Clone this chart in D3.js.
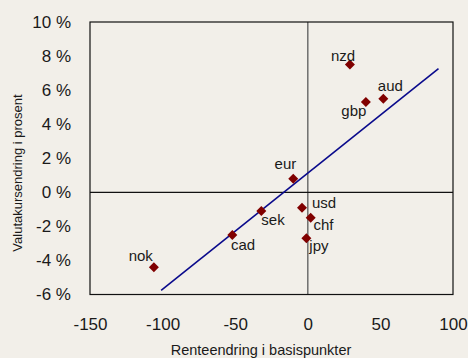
<!DOCTYPE html>
<html>
<head>
<meta charset="utf-8">
<script src="https://cdn.jsdelivr.net/npm/d3@7/dist/d3.min.js"></script>
<style>
  html, body { margin: 0; padding: 0; background: #f2efe9; }
  svg { display: block; font-family: "Liberation Sans", Arial, sans-serif; }
</style>
</head>
<body>
<svg id="chart" width="468" height="358"></svg>
<script>
// Currencies: change in policy rate (basis points) vs exchange-rate change (%)
const currencies = ["nzd", "aud", "gbp", "eur", "usd", "chf", "jpy", "sek", "cad", "nok"];
const rateChange = [29, 52, 40, -10, -4, 2, -1, -32, -52, -106];
const fxChange   = [7.5, 5.5, 5.3, 0.8, -0.9, -1.5, -2.7, -1.1, -2.5, -4.4];

// Fitted trend line (two end points)
const trendX = [-101, 90];
const trendY = [-5.76, 7.26];

// Axis ticks
const xTicks = [-150, -100, -50, 0, 50, 100];
const yTicks = [-6, -4, -2, 0, 2, 4, 6, 8, 10];

// Label placement relative to each marker: [dx, dy, anchor]
const labelPlacement = [
  [-19, -3.5, "start"], [-5.5, -8, "start"], [0.5, 13.5, "end"], [3, -10, "end"],
  [10, 0.7, "start"], [2.7, 12.3, "start"], [3, 12.7, "start"], [0, 14, "start"],
  [-1.3, 15, "start"], [-1, -6.7, "end"]
];

const svg = d3.select("#chart");
const m = { left: 90, top: 22, right: 453, bottom: 294.5 };
const ink = "#1a1a1a";

const x = d3.scaleLinear().domain([-150, 100]).range([m.left, m.right]);
const y = d3.scaleLinear().domain([-6, 10]).range([m.bottom, m.top]);

// Y axis labels
svg.append("g")
  .attr("transform", `translate(${m.left},0)`)
  .call(d3.axisLeft(y).tickValues(yTicks).tickSize(0).tickPadding(19)
        .tickFormat(d => String(d) + " %"))
  .call(g => g.select(".domain").remove())
  .selectAll("text")
  .attr("font-size", 17).attr("fill", ink)
  .attr("font-family", "Liberation Sans, Arial, sans-serif");

// X axis labels
svg.append("g")
  .attr("transform", `translate(0,${m.bottom})`)
  .call(d3.axisBottom(x).tickValues(xTicks).tickSize(0).tickPadding(23.5)
        .tickFormat(d => String(d)))
  .call(g => g.select(".domain").remove())
  .selectAll("text")
  .attr("font-size", 17).attr("fill", ink)
  .attr("font-family", "Liberation Sans, Arial, sans-serif");

// Zero lines
svg.append("line")
  .attr("x1", x(0)).attr("x2", x(0)).attr("y1", m.top).attr("y2", m.bottom)
  .attr("stroke", "#6e6e6e").attr("stroke-width", 1.5);
svg.append("line")
  .attr("x1", m.left).attr("x2", m.right).attr("y1", y(0)).attr("y2", y(0))
  .attr("stroke", "#111").attr("stroke-width", 1.2);

// Plot frame
svg.append("rect")
  .attr("x", m.left).attr("y", m.top)
  .attr("width", m.right - m.left).attr("height", m.bottom - m.top)
  .attr("fill", "none").attr("stroke", "#111").attr("stroke-width", 1.2);

// Trend line
svg.append("line")
  .attr("x1", x(trendX[0])).attr("y1", y(trendY[0]))
  .attr("x2", x(trendX[1])).attr("y2", y(trendY[1]))
  .attr("stroke", "#0a0a8c").attr("stroke-width", 1.6);

// Markers (diamonds)
const pts = currencies.map((c, i) => ({ c, rx: rateChange[i], fy: fxChange[i], lp: labelPlacement[i] }));
const r = 5;
svg.append("g").selectAll("path").data(pts).join("path")
  .attr("d", d => {
    const cx = x(d.rx), cy = y(d.fy);
    return `M${cx},${cy - r}L${cx + r},${cy}L${cx},${cy + r}L${cx - r},${cy}Z`;
  })
  .attr("fill", "#800000");

// Point labels
svg.append("g").selectAll("text").data(pts).join("text")
  .attr("x", d => x(d.rx) + d.lp[0])
  .attr("y", d => y(d.fy) + d.lp[1])
  .attr("text-anchor", d => d.lp[2])
  .attr("font-size", 15).attr("fill", ink)
  .text(d => d.c);

// Axis titles
svg.append("text")
  .attr("x", 261).attr("y", 354.5)
  .attr("text-anchor", "middle").attr("font-size", 14.5).attr("fill", ink)
  .text("Renteendring i basispunkter");
svg.append("text")
  .attr("transform", "translate(22,173) rotate(-90)")
  .attr("text-anchor", "middle").attr("font-size", 13).attr("fill", ink)
  .text("Valutakursendring i prosent");
</script>
</body>
</html>
